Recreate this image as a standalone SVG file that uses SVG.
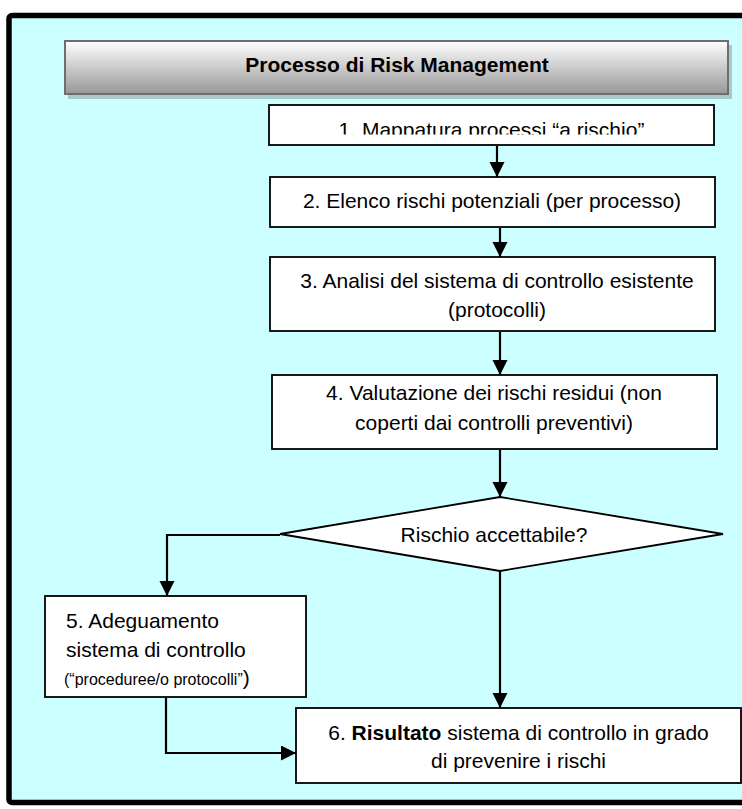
<svg xmlns="http://www.w3.org/2000/svg" width="742" height="809" viewBox="0 0 742 809">
<style>
  text { font-family: "Liberation Sans", Arial, sans-serif; fill: #000; }
  .t { font-size: 21px; }
  .c { text-anchor: middle; }
  .box { fill: #fff; stroke: #000; stroke-width: 1.8; }
  .conn path { fill: none; stroke: #000; stroke-width: 2.2; }
</style>
<defs>
  <linearGradient id="hg" x1="0" y1="0" x2="0" y2="1">
    <stop offset="0" stop-color="#ffffff"/>
    <stop offset="1" stop-color="#979797"/>
  </linearGradient>
  <marker id="ah" markerUnits="userSpaceOnUse" markerWidth="16" markerHeight="16" refX="15" refY="7.5" orient="auto">
    <path d="M0,0 L15,7.5 L0,15 z" fill="#000"/>
  </marker>
  <clipPath id="c1"><rect x="269" y="105" width="445" height="29.5"/></clipPath>
</defs>
<rect x="0" y="0" width="742" height="809" fill="#fff"/>
<rect id="frame" x="9" y="15.5" width="745" height="787" rx="3" fill="#ccffff" stroke="#000" stroke-width="5.5"/>

<g id="header">
  <rect x="68" y="45" width="664" height="54" fill="#8c9c9c" opacity="0.55"/>
  <rect x="65" y="41" width="663" height="53" fill="url(#hg)" stroke="#6e6e6e" stroke-width="2"/>
  <text x="397" y="72" class="c" font-size="21" font-weight="bold">Processo di Risk Management</text>
</g>

<g id="n1">
  <rect x="269" y="105" width="445" height="40" class="box" stroke-width="2.5"/>
  <text x="491.5" y="137" class="t c" clip-path="url(#c1)">1. Mappatura processi “a rischio”</text>
</g>
<g id="n2">
  <rect x="270" y="177" width="445" height="50" class="box"/>
  <text x="492" y="208" class="t c">2. Elenco rischi potenziali (per processo)</text>
</g>
<g id="n3">
  <rect x="270" y="257" width="445" height="74" class="box"/>
  <text x="497" y="288" class="t c">3. Analisi del sistema di controllo esistente</text>
  <text x="497" y="317" class="t c">(protocolli)</text>
</g>
<g id="n4">
  <rect x="272" y="375" width="445" height="74" class="box"/>
  <text x="494" y="400" class="t c">4. Valutazione dei rischi residui (non</text>
  <text x="494" y="430" class="t c">coperti dai controlli preventivi)</text>
</g>
<g id="d1">
  <polygon points="500,497 723,534 500,571 280,534" class="box"/>
  <text x="494" y="542" class="t c">Rischio accettabile?</text>
</g>
<g id="n5">
  <rect x="45" y="596" width="261" height="101" class="box"/>
  <text x="66" y="628" class="t">5. Adeguamento</text>
  <text x="66" y="657" class="t">sistema di controllo</text>
  <text x="64" y="685" font-size="16">(“proceduree/o protocolli”<tspan font-size="21">)</tspan></text>
</g>
<g id="n6">
  <rect x="296" y="708" width="445" height="75" class="box"/>
  <text x="518.5" y="740" class="t c">6. <tspan font-weight="bold">Risultato</tspan> sistema di controllo in grado</text>
  <text x="518.5" y="768" class="t c">di prevenire i rischi</text>
</g>

<g id="connectors" class="conn">
  <path d="M497 146 V177" marker-end="url(#ah)"/>
  <path d="M500 228 V257" marker-end="url(#ah)"/>
  <path d="M500 332 V375" marker-end="url(#ah)"/>
  <path d="M500 450 V497" marker-end="url(#ah)"/>
  <path d="M280 535 H167 V596" marker-end="url(#ah)"/>
  <path d="M500 571 V708" marker-end="url(#ah)"/>
  <path d="M166 697 V753 H296" marker-end="url(#ah)"/>
</g>
</svg>
